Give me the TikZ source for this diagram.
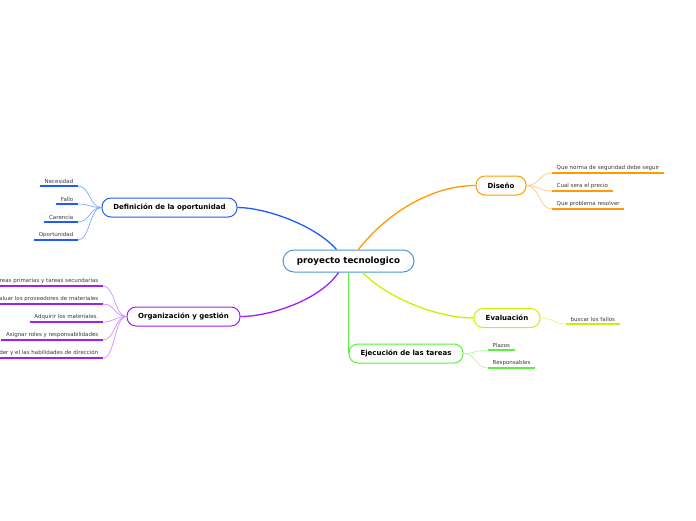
\documentclass[tikz,border=0pt]{standalone}
\usepackage{fontspec}
\setmainfont{DejaVu Sans}
\definecolor{cBlue}{HTML}{1F5BFF}
\definecolor{cBlueL}{HTML}{7FA5FF}
\definecolor{cPur}{HTML}{A11EF0}
\definecolor{cPurL}{HTML}{CF8FFF}
\definecolor{cOra}{HTML}{FF9A00}
\definecolor{cOraL}{HTML}{FFC878}
\definecolor{cYel}{HTML}{CCF000}
\definecolor{cYelL}{HTML}{DFFA70}
\definecolor{cGre}{HTML}{5CF03C}
\definecolor{cGreL}{HTML}{A6FF94}
\definecolor{cCen}{HTML}{4C95DA}
\begin{document}
\begin{tikzpicture}[x=1pt,y=-1pt,
  topic/.style={draw, fill=white, rounded corners=9pt, minimum height=19pt, inner sep=0pt,
     font=\fontsize{7}{8}\selectfont\bfseries, line width=1pt},
  leaf/.style={font=\fontsize{5.5}{6}\selectfont, text=black!78, inner xsep=4.5pt, inner ysep=1.8pt},
  uline/.style={line width=1.8pt},
  subc/.style={line width=0.7pt},
  mainc/.style={line width=1.3pt}]
\useasboundingbox (0,0) rectangle (696,520);

% topics
\node[topic, draw=cCen, minimum width=131pt, minimum height=22pt, rounded corners=11pt,
      font=\fontsize{8.7}{10}\selectfont\bfseries] (c) at (348.5,261) {proyecto tecnologico};
\node[topic, draw=cBlue, minimum width=135pt] (def) at (169.5,207.5) {Definición de la oportunidad};
\node[topic, draw=cPur, minimum width=113pt] (org) at (183.5,316.5) {Organización y gestión};
\node[topic, draw=cOra, minimum width=50pt] (dis) at (501,185.5) {Diseño};
\node[topic, draw=cYel, minimum width=66pt] (eva) at (507,318) {Evaluación};
\node[topic, draw=cGre, minimum width=114pt] (eje) at (406,353.5) {Ejecución de las tareas};

% main connectors
\draw[mainc, cBlue] ([xshift=-12pt]c.north) .. controls (315,225) and (265,207.5) .. (def.east);
\draw[mainc, cOra] ([xshift=10pt]c.north) .. controls (385,215) and (430,185.5) .. (dis.west);
\draw[mainc, cPur] ([xshift=-10pt]c.south) .. controls (320,300) and (270,316.5) .. (org.east);
\draw[mainc, cYel] ([xshift=14pt]c.south) .. controls (390,300) and (440,318) .. (eva.west);
\draw[mainc, cGre] (c.south) -- (c.south |- eje.west);

% Definicion leaves
\node[leaf, anchor=south east] (d1) at (78,186) {Necesidad};
\node[leaf, anchor=south east] (d2) at (78,204) {Fallo};
\node[leaf, anchor=south east] (d3) at (78,222) {Carencia};
\node[leaf, anchor=south east] (d4) at (78,240) {Oportunidad};
\foreach \n in {d1,d2,d3,d4}{
  \draw[uline, cBlue] (\n.south west) -- (\n.south east);
  \draw[subc, cBlueL] (\n.south east) .. controls +(12,0) and +(-12,0) .. (def.west);
}

% Organizacion leaves
\node[leaf, anchor=south east] (o1) at (103,286) {reas primarias y tareas secundarias};
\node[leaf, anchor=south east] (o2) at (103,304) {aluar los proveedores de materiales};
\node[leaf, anchor=south east] (o3) at (103,322) {Adquirir los materiales.};
\node[leaf, anchor=south east] (o4) at (103,340) {Asignar roles y responsabilidades};
\node[leaf, anchor=south east] (o5) at (103,358) {der y el las habilidades de dirección};
\foreach \n in {o1,o2,o3,o4,o5}{
  \draw[uline, cPur] (\n.south west) -- (\n.south east);
  \draw[subc, cPurL] (\n.south east) .. controls +(12,0) and +(-12,0) .. (org.west);
}

% Diseno leaves
\node[leaf, anchor=south west] (s1) at (552,173) {Que norma de seguridad debe seguir};
\node[leaf, anchor=south west] (s2) at (552,191) {Cual sera el precio};
\node[leaf, anchor=south west] (s3) at (552,209) {Que problema resolver};
\foreach \n in {s1,s2,s3}{
  \draw[uline, cOra] (\n.south west) -- (\n.south east);
  \draw[subc, cOraL] (dis.east) .. controls +(13,0) and +(-13,0) .. (\n.south west);
}

% Evaluacion leaf
\node[leaf, anchor=south west] (e1) at (566,324) {buscar los fallos};
\draw[uline, cYel] (e1.south west) -- (e1.south east);
\draw[subc, cYelL] (eva.east) .. controls +(13,0) and +(-13,0) .. (e1.south west);

% Ejecucion leaves
\node[leaf, anchor=south west] (j1) at (488,350) {Plazos};
\node[leaf, anchor=south west] (j2) at (488,368) {Responsables};
\foreach \n in {j1,j2}{
  \draw[uline, cGre] (\n.south west) -- (\n.south east);
  \draw[subc, cGreL] (eje.east) .. controls +(12,0) and +(-12,0) .. (\n.south west);
}
\end{tikzpicture}
\end{document}
